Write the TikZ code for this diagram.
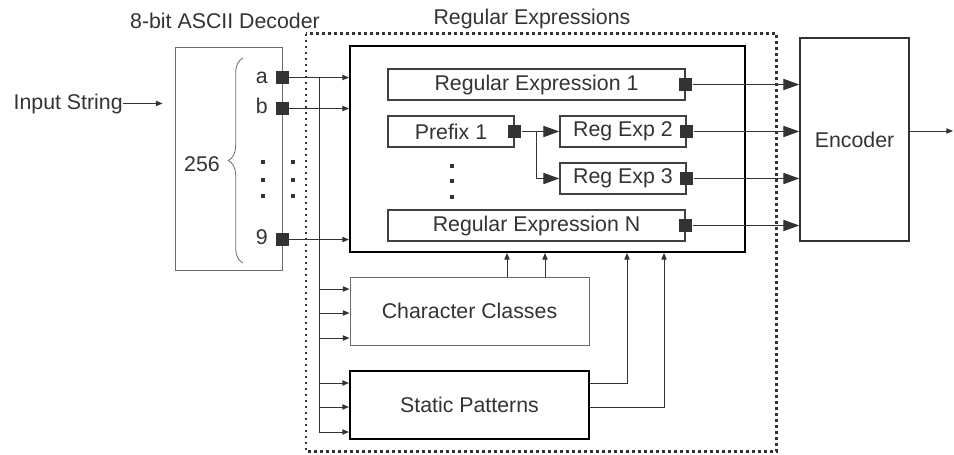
\documentclass[tikz,border=0pt]{standalone}
\usepackage{fontspec}
\setmainfont{Liberation Sans}
\usetikzlibrary{arrows.meta}
\usetikzlibrary{calc}
\usetikzlibrary{decorations.pathreplacing}
\definecolor{ink}{HTML}{333333}
\definecolor{rim}{HTML}{6A6A6A}
\tikzset{
  txt/.style={text=ink, inner sep=0pt, font=\fontsize{16}{19}\selectfont},
  block/.style={txt, draw=#1, line width=1.1pt},
  port/.style={fill=ink, draw=none, minimum size=9.75pt, inner sep=0pt},
  wire/.style={draw=ink, line width=0.75pt},
  tiny/.style={wire, -{Triangle[length=5pt,width=4pt]}},
  big/.style={wire, -{Triangle[length=12pt,width=8.5pt]}},
  frame/.style={draw=ink, line width=2.2pt, dash pattern=on 2.2pt off 2.3pt}
}

\begin{document}
\begin{tikzpicture}[x=0.75pt, y=-0.75pt]
	\useasboundingbox (0,0) rectangle (954,454);
	% titles
	\node[txt, anchor=base] (dectitle) at (225,28) {8-bit ASCII Decoder};
	\node[txt, anchor=base] (retitle) at (532,24) {Regular Expressions};
	\draw[frame] (306,33.5) rectangle (776.5,451.5);
	% decoder
	\node[block=rim, line width=0.75pt, minimum width=80.25pt, minimum height=167.25pt] (decoder) at (228.5,158.5) {};
	\node[txt, anchor=base east] (input) at (123,109) {Input String};
	\draw[tiny, shorten >=9pt] (input) -- (input -| decoder.west);
	\draw[draw=rim, line width=0.6pt, decorate, decoration={brace, amplitude=11pt}] (243,263) -- (243,58);
	\node[txt, anchor=east] (count) at (220,164) {256};
	\node[port] (pa) at (282,77.5) {};
	\node[port] (pb) at (282,108.5) {};
	\node[port] (p9) at (282,239.5) {};
	\node[txt, anchor=base east] (la) at (268,83) {a};
	\node[txt, anchor=base east] (lb) at (268,113) {b};
	\node[txt, anchor=base east] (l9) at (268,244) {9};
	\foreach \x in {263,293}
		\foreach \y in {162,180,196}
			\fill[ink] (\x,\y) +(-1.6,-1.6) rectangle +(1.6,1.6);
	% regular expressions
	\node[block=black, line width=1.5pt, minimum width=296.25pt, minimum height=154.5pt] (rebox) at (547.5,149) {};
	\node[block=black!75, minimum width=222.75pt, minimum height=23.25pt] (re1) at (536.5,84.5) {Regular Expression 1};
	\node[block=black!75, minimum width=94.5pt, minimum height=23.25pt] (prefix) at (451,131.5) {Prefix 1};
	\node[block=black!75, minimum width=94.5pt, minimum height=23.25pt] (re2) at (623,131.5) {Reg Exp 2};
	\node[block=black!75, minimum width=94.5pt, minimum height=23.25pt] (re3) at (623,178.5) {Reg Exp 3};
	\node[block=black!75, minimum width=222.75pt, minimum height=23.25pt] (reN) at (536.5,225.5) {Regular Expression N};
	\foreach \y in {166,181,197}
		\fill[ink] (452,\y) +(-1.6,-1.6) rectangle +(1.6,1.6);
	\node[port] (pp) at (prefix.east) {};
	\node[port] (o1) at (re1.east) {};
	\node[port] (o2) at (re2.east) {};
	\node[port] (o3) at (re3.east) {};
	\node[port] (o4) at (reN.east) {};
	\coordinate (split) at ($(pp)+(22,0)$);
	\draw[big] (pp) -- (re2.west);
	\draw[big] (split) |- (re3.west);
	% classes and patterns
	\node[block=rim, line width=0.75pt, minimum width=179.25pt, minimum height=51pt] (cc) at (469.5,311) {Character Classes};
	\node[block=black, line width=1.5pt, minimum width=179.25pt, minimum height=51pt] (sp) at (469.5,405) {Static Patterns};
	% encoder
	\node[block=ink, minimum width=81.75pt, minimum height=152.25pt] (enc) at (854.5,139.5) {Encoder};
	\coordinate (out) at (953,131);
	\draw[tiny] (out -| enc.east) -- (out);
	% wiring
	\foreach \p in {pa,pb,p9}
		\draw[tiny] (\p) -- (\p -| rebox.west);
	\coordinate (bustop) at (319,77.5);
	\coordinate (busend) at (319,432);
	\draw[wire] (bustop) -- (busend);
	\foreach \blk in {cc,sp}
		\foreach \dy in {-22,2,27} {
			\path ($(\blk.west)+(0,\dy)$) coordinate (tip);
			\draw[tiny] (bustop |- tip) -- (tip);
		}
	\foreach \dx in {37.5,75.5} {
		\path ($(cc.north)+(\dx,0)$) coordinate (foot);
		\draw[tiny] (foot) -- (foot |- rebox.south);
	}
	\draw[tiny] ($(sp.east)+(0,-22)$) -| ($(rebox.south)+(79.5,0)$);
	\draw[tiny] ($(sp.east)+(0,2)$) -| ($(rebox.south)+(116.5,0)$);
	\foreach \o in {o1,o2,o3,o4}
		\draw[big] (\o) -- (\o -| enc.west);
\end{tikzpicture}
\end{document}
